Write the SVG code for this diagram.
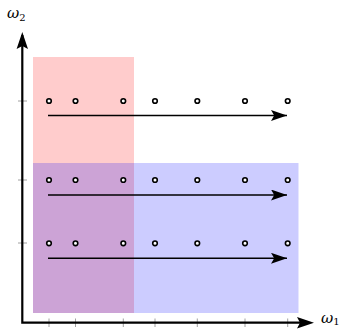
<svg xmlns="http://www.w3.org/2000/svg" width="346" height="329" viewBox="0 0 346 329">
<defs>
<marker id="axh" viewBox="0 0 10 10" refX="10" refY="5" markerWidth="16" markerHeight="11" markerUnits="userSpaceOnUse" orient="auto" preserveAspectRatio="none"><path d="M0,0 L10,5 L0,10 L2,5 Z" fill="#000"/></marker>
</defs>
<style>
.tick{stroke:#888;stroke-width:0.8}
.axis{stroke:#000;stroke-width:2.2;fill:none}
.flow{stroke:#000;stroke-width:1.6;fill:none}
.pt{fill:#fff;stroke:#000;stroke-width:1.6}
.lbl{font-family:"DejaVu Serif","Liberation Serif",serif;font-style:italic;font-size:15px}
.sub{font-family:"DejaVu Serif","Liberation Serif",serif;font-size:10px}
</style>
<g id="regions">
<rect id="red-region" x="33" y="57" width="101" height="256" fill="#ff0000" fill-opacity="0.2"/>
<rect id="blue-region" x="33" y="163" width="265.5" height="150" fill="#0000ff" fill-opacity="0.2"/>
</g>
<g id="ticks">
<line class="tick" x1="18" y1="101" x2="27" y2="101"/>
<line class="tick" x1="18" y1="180" x2="27" y2="180"/>
<line class="tick" x1="18" y1="243" x2="27" y2="243"/>
<line class="tick" x1="49" y1="318.5" x2="49" y2="327"/>
<line class="tick" x1="75.5" y1="318.5" x2="75.5" y2="327"/>
<line class="tick" x1="123.3" y1="318.5" x2="123.3" y2="327"/>
<line class="tick" x1="155" y1="318.5" x2="155" y2="327"/>
<line class="tick" x1="197.3" y1="318.5" x2="197.3" y2="327"/>
<line class="tick" x1="245" y1="318.5" x2="245" y2="327"/>
<line class="tick" x1="287.7" y1="318.5" x2="287.7" y2="327"/>
</g>
<g id="axes">
<polyline class="axis" points="22.3,35 22.3,322.7 300,322.7"/>
<path d="M22.3,32 L28,49 L22.3,46 L16.6,49 Z" fill="#000"/>
<path d="M314,322.7 L297,317 L300,322.7 L297,328.4 Z" fill="#000"/>
<text class="lbl" x="7" y="18">ω<tspan class="sub" dy="3" font-style="normal">2</tspan></text>
<text class="lbl" x="321" y="323">ω<tspan class="sub" dy="2" font-style="normal">1</tspan></text>
</g>
<g id="connectors">
<line class="flow" x1="48" y1="115.5" x2="287" y2="115.5" marker-end="url(#axh)"/>
<line class="flow" x1="48" y1="195" x2="287" y2="195" marker-end="url(#axh)"/>
<line class="flow" x1="48" y1="258.3" x2="287" y2="258.3" marker-end="url(#axh)"/>
</g>
<g id="points">
<g id="row1">
<circle class="pt" cx="49" cy="101" r="2.3"/><circle class="pt" cx="75.5" cy="101" r="2.3"/><circle class="pt" cx="123.3" cy="101" r="2.3"/><circle class="pt" cx="155" cy="101" r="2.3"/><circle class="pt" cx="197.3" cy="101" r="2.3"/><circle class="pt" cx="245" cy="101" r="2.3"/><circle class="pt" cx="287.7" cy="101" r="2.3"/>
</g>
<g id="row2">
<circle class="pt" cx="49" cy="180" r="2.3"/><circle class="pt" cx="75.5" cy="180" r="2.3"/><circle class="pt" cx="123.3" cy="180" r="2.3"/><circle class="pt" cx="155" cy="180" r="2.3"/><circle class="pt" cx="197.3" cy="180" r="2.3"/><circle class="pt" cx="245" cy="180" r="2.3"/><circle class="pt" cx="287.7" cy="180" r="2.3"/>
</g>
<g id="row3">
<circle class="pt" cx="49" cy="243.3" r="2.3"/><circle class="pt" cx="75.5" cy="243.3" r="2.3"/><circle class="pt" cx="123.3" cy="243.3" r="2.3"/><circle class="pt" cx="155" cy="243.3" r="2.3"/><circle class="pt" cx="197.3" cy="243.3" r="2.3"/><circle class="pt" cx="245" cy="243.3" r="2.3"/><circle class="pt" cx="287.7" cy="243.3" r="2.3"/>
</g>
</g>
</svg>
